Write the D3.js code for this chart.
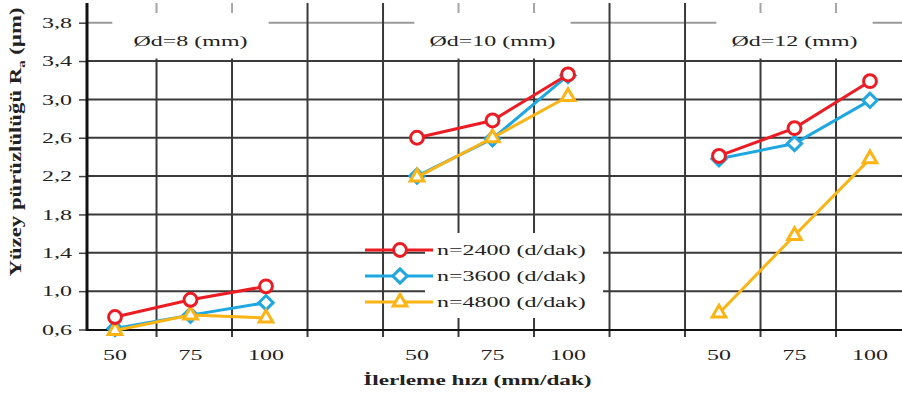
<!DOCTYPE html>
<html>
<head>
<meta charset="utf-8">
<script src="https://cdn.jsdelivr.net/npm/d3@7/dist/d3.min.js"></script>
<style>
  html, body { margin: 0; padding: 0; background: #fff; }
  svg { display: block; }
  text { font-family: "Liberation Serif"; fill: #222; }
</style>
</head>
<body>
<svg id="chart" width="902" height="397"></svg>
<script>
// ---------------- data ----------------
const feedRates = [50, 75, 100];                       // mm/dak
const diameters = ["Ød=8 (mm)", "Ød=10 (mm)", "Ød=12 (mm)"];
const seriesNames = ["n=2400 (d/dak)", "n=3600 (d/dak)", "n=4800 (d/dak)"];
// values per diameter panel, per feed rate
const n2400 = [[0.73, 0.91, 1.05], [2.60, 2.78, 3.26], [2.41, 2.70, 3.19]];
const n3600 = [[0.61, 0.75, 0.88], [2.20, 2.59, 3.25], [2.38, 2.54, 2.99]];
const n4800 = [[0.59, 0.75, 0.72], [2.19, 2.60, 3.03], [0.77, 1.58, 2.38]];
const yTicks = [0.6, 1.0, 1.4, 1.8, 2.2, 2.6, 3.0, 3.4, 3.8];

// ---------------- layout ----------------
const W = 902, H = 397;
const axisX = 87, axisY = 330, topY = 3;
const TX = 1.6; // horizontal text stretch
const svg = d3.select("#chart");

// index positions: panel p, feed j -> p*4 + j
const x = d3.scaleLinear().domain([0, 10]).range([115, 870]);
const y = d3.scaleLinear().domain([0.6, 4.0]).range([329.5, 3.5]);
const idx = (p, j) => p * 4 + j;
const gridIdx = d3.range(10).map(k => k + 0.55);

const GRID = "#3a3a3a";

// horizontal gridlines
svg.append("g").selectAll("line").data(yTicks.filter(v => v > 0.6)).join("line")
  .attr("x1", axisX).attr("x2", W)
  .attr("y1", d => y(d)).attr("y2", d => y(d))
  .attr("stroke", d => d > 3.5 ? "#9a9a9a" : GRID)
  .attr("stroke-width", 2);

// vertical gridlines
svg.append("g").selectAll("line").data(gridIdx).join("line")
  .attr("x1", d => x(d)).attr("x2", d => x(d))
  .attr("y1", topY).attr("y2", axisY + 7)
  .attr("stroke", GRID).attr("stroke-width", 2);

// panel title boxes
const titleG = svg.append("g");
diameters.forEach((t, p) => {
  const cx = x(idx(p, 1));
  titleG.append("rect").attr("x", cx - 78).attr("y", 0).attr("width", 156).attr("height", 59)
    .attr("fill", "#fff").attr("fill-opacity", 0.55);
  titleG.append("rect").attr("x", cx - 78).attr("y", 13).attr("width", 156).attr("height", 45)
    .attr("fill", "#fff");
  titleG.append("text")
    .attr("transform", `translate(${cx},46) scale(${TX},1)`)
    .attr("text-anchor", "middle").attr("font-size", 15).attr("fill", "#333").text(t);
});

// y axis
const yAxis = d3.axisLeft(y).tickValues(yTicks).tickSize(8).tickPadding(7)
  .tickFormat(d => d3.format(".1f")(d).replace(".", ","));
const yg = svg.append("g").attr("transform", `translate(${axisX},0)`).call(yAxis);
yg.attr("font-family", null);
yg.select(".domain").remove();
yg.selectAll(".tick line").attr("stroke", "#444").attr("stroke-width", 1.5);
yg.selectAll(".tick text")
  .attr("font-size", 15).attr("fill", "#333")
  .attr("x", -15 / TX).attr("transform", `scale(${TX},1)`);

// x axis labels (at data points)
const xAxisG = svg.append("g");
const labelData = [];
diameters.forEach((t, p) => feedRates.forEach((f, j) => labelData.push({ p, j, f })));
xAxisG.selectAll("text").data(labelData).join("text")
  .attr("transform", d => `translate(${x(idx(d.p, d.j))},360) scale(${TX},1)`)
  .attr("text-anchor", "middle").attr("font-size", 15).attr("fill", "#333")
  .text(d => d.f);

// axis lines
svg.append("line").attr("x1", axisX).attr("x2", axisX).attr("y1", topY).attr("y2", axisY + 1)
  .attr("stroke", "#111").attr("stroke-width", 3);
svg.append("line").attr("x1", axisX - 1).attr("x2", W).attr("y1", axisY).attr("y2", axisY)
  .attr("stroke", "#111").attr("stroke-width", 2.2);

// axis titles
svg.append("text")
  .attr("transform", `translate(${x(4.8)},385) scale(1.55,1)`)
  .attr("text-anchor", "middle").attr("font-size", 15).attr("font-weight", "bold").attr("fill", "#333")
  .text("İlerleme hızı (mm/dak)");
const yt = svg.append("text")
  .attr("transform", `translate(21,142) rotate(-90) scale(1.34,1)`)
  .attr("text-anchor", "middle").attr("font-size", 17).attr("font-weight", "bold").attr("fill", "#333");
yt.append("tspan").text("Yüzey pürüzlülüğü R");
yt.append("tspan").attr("font-size", 11).attr("dy", 4).text("a");
yt.append("tspan").attr("dy", -4).text(" (µm)");

// ---------------- series ----------------
const series = [
  { name: seriesNames[1], values: n3600, color: "#1ea7e1", symbol: d3.symbolDiamond2, size: 130 },
  { name: seriesNames[2], values: n4800, color: "#fbb414", symbol: d3.symbolTriangle, size: 80 },
  { name: seriesNames[0], values: n2400, color: "#ec1c24", symbol: d3.symbolCircle, size: 130 }
];

const line = d3.line().x(d => x(d.i)).y(d => y(d.v));

series.forEach(s => {
  const g = svg.append("g");
  s.values.forEach((vals, p) => {
    const pts = vals.map((v, j) => ({ i: idx(p, j), v }));
    g.append("path").datum(pts).attr("d", line)
      .attr("fill", "none").attr("stroke", s.color).attr("stroke-width", 3);
    g.selectAll(null).data(pts).join("path")
      .attr("transform", d => `translate(${x(d.i)},${y(d.v)})`)
      .attr("d", d3.symbol().type(s.symbol).size(s.size))
      .attr("fill", "#fff").attr("stroke", s.color).attr("stroke-width", 3);
  });
});

// ---------------- legend ----------------
const legend = svg.append("g");
legend.append("rect").attr("x", 425).attr("y", 233).attr("width", 178).attr("height", 85).attr("fill", "#fff");
const legendOrder = [series[2], series[0], series[1]];
legendOrder.forEach((s, k) => {
  const ly = 250 + k * 26;
  legend.append("line").attr("x1", 365).attr("x2", 433).attr("y1", ly).attr("y2", ly)
    .attr("stroke", s.color).attr("stroke-width", 3);
  legend.append("path").attr("transform", `translate(400,${ly})`)
    .attr("d", d3.symbol().type(s.symbol).size(s.size))
    .attr("fill", "#fff").attr("stroke", s.color).attr("stroke-width", 3);
  legend.append("text").attr("transform", `translate(437,${ly + 5}) scale(${TX},1)`)
    .attr("font-size", 15).attr("fill", "#222").text(s.name);
});
</script>
</body>
</html>
